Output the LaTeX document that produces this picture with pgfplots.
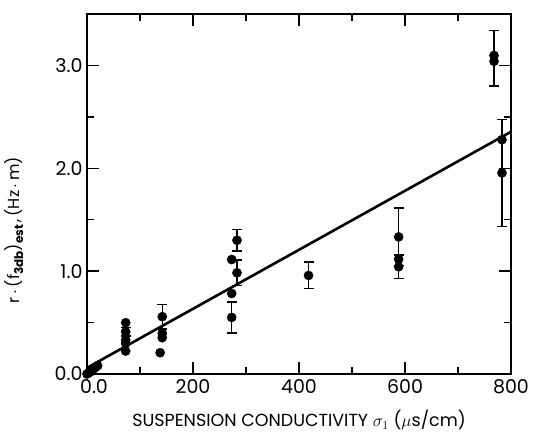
\documentclass[border=0pt]{standalone}
\usepackage{pgfplots}
\pgfplotsset{compat=1.18}
\usepackage{fontspec}
\setmainfont{Poppins}

\begin{document}
\begin{tikzpicture}
\begin{axis}[
  scale only axis, width=424pt, height=360pt,
  xmin=0, xmax=800, ymin=0, ymax=3.5,
  clip=false,
  xtick={0,200,400,600,800}, minor xtick={100,300,500,700},
  xticklabels={\hspace{14pt}0.0,200,400,600,800},
  ytick={0,1,2,3}, minor ytick={0.5,1.5,2.5},
  yticklabels={0.0,1.0,2.0,3.0},
  tick align=inside,
  major tick length=12pt, minor tick length=7pt,
  every tick/.style={black, line width=1.3pt},
  axis line style={line width=1.4pt},
  tick label style={font=\fontsize{19}{22}\selectfont},
  xticklabel style={yshift=-2pt},
  yticklabel style={xshift=-1pt},
  xlabel={SUSPENSION CONDUCTIVITY $\sigma_1$ ($\mu$s/cm)},
  xlabel style={font=\fontsize{17.5}{20}\selectfont, at={(axis description cs:0.5,-0.128)}, anchor=center},
  ylabel={r\,$\cdot$\,(f\raisebox{-0.4ex}{\fontsize{12}{13}\selectfont\bfseries 3db})\raisebox{-0.4ex}{\fontsize{12}{13}\selectfont\bfseries est}\,,\,(Hz\,$\cdot$\,m)},
  ylabel style={font=\fontsize{16}{19}\selectfont, at={(axis description cs:-0.172,0.40)}, anchor=center},
]
\addplot[line width=2.6pt] coordinates {(0,0.06) (800,2.355)};

\addplot[only marks, mark=*, mark size=4.6pt, black,
  error bars/.cd, y dir=both, y explicit,
  error bar style={line width=1.3pt, black},
  error mark options={rotate=90, mark size=5pt, line width=1.3pt, black}]
  table[x=x, y=y, y error plus=ep, y error minus=em] {
x     y      ep     em
73    0.41   0.04   0.04
142   0.557  0.12   0.12
273   0.55   0.15   0.15
283   1.30   0.105  0.105
283   0.984  0.125  0.125
418   0.958  0.13   0.13
588   1.333  0.28   0.28
588   1.042  0.115  0.115
768   3.04   0.30   0.24
783   1.955  0.52   0.52
};

\addplot[only marks, mark=*, mark size=4.6pt, black] table {
x    y
0    0.0
3    0.01
6    0.02
9    0.03
12   0.05
15   0.06
20   0.08
73   0.498
73   0.33
73   0.298
73   0.223
142  0.395
142  0.353
138  0.207
273  1.113
273  0.783
588  1.117
768  3.097
783  2.278
};
\end{axis}
\path ([xshift=-87pt,yshift=-58pt]current axis.south west) rectangle ([xshift=22pt,yshift=14pt]current axis.north east);
\end{tikzpicture}
\end{document}
